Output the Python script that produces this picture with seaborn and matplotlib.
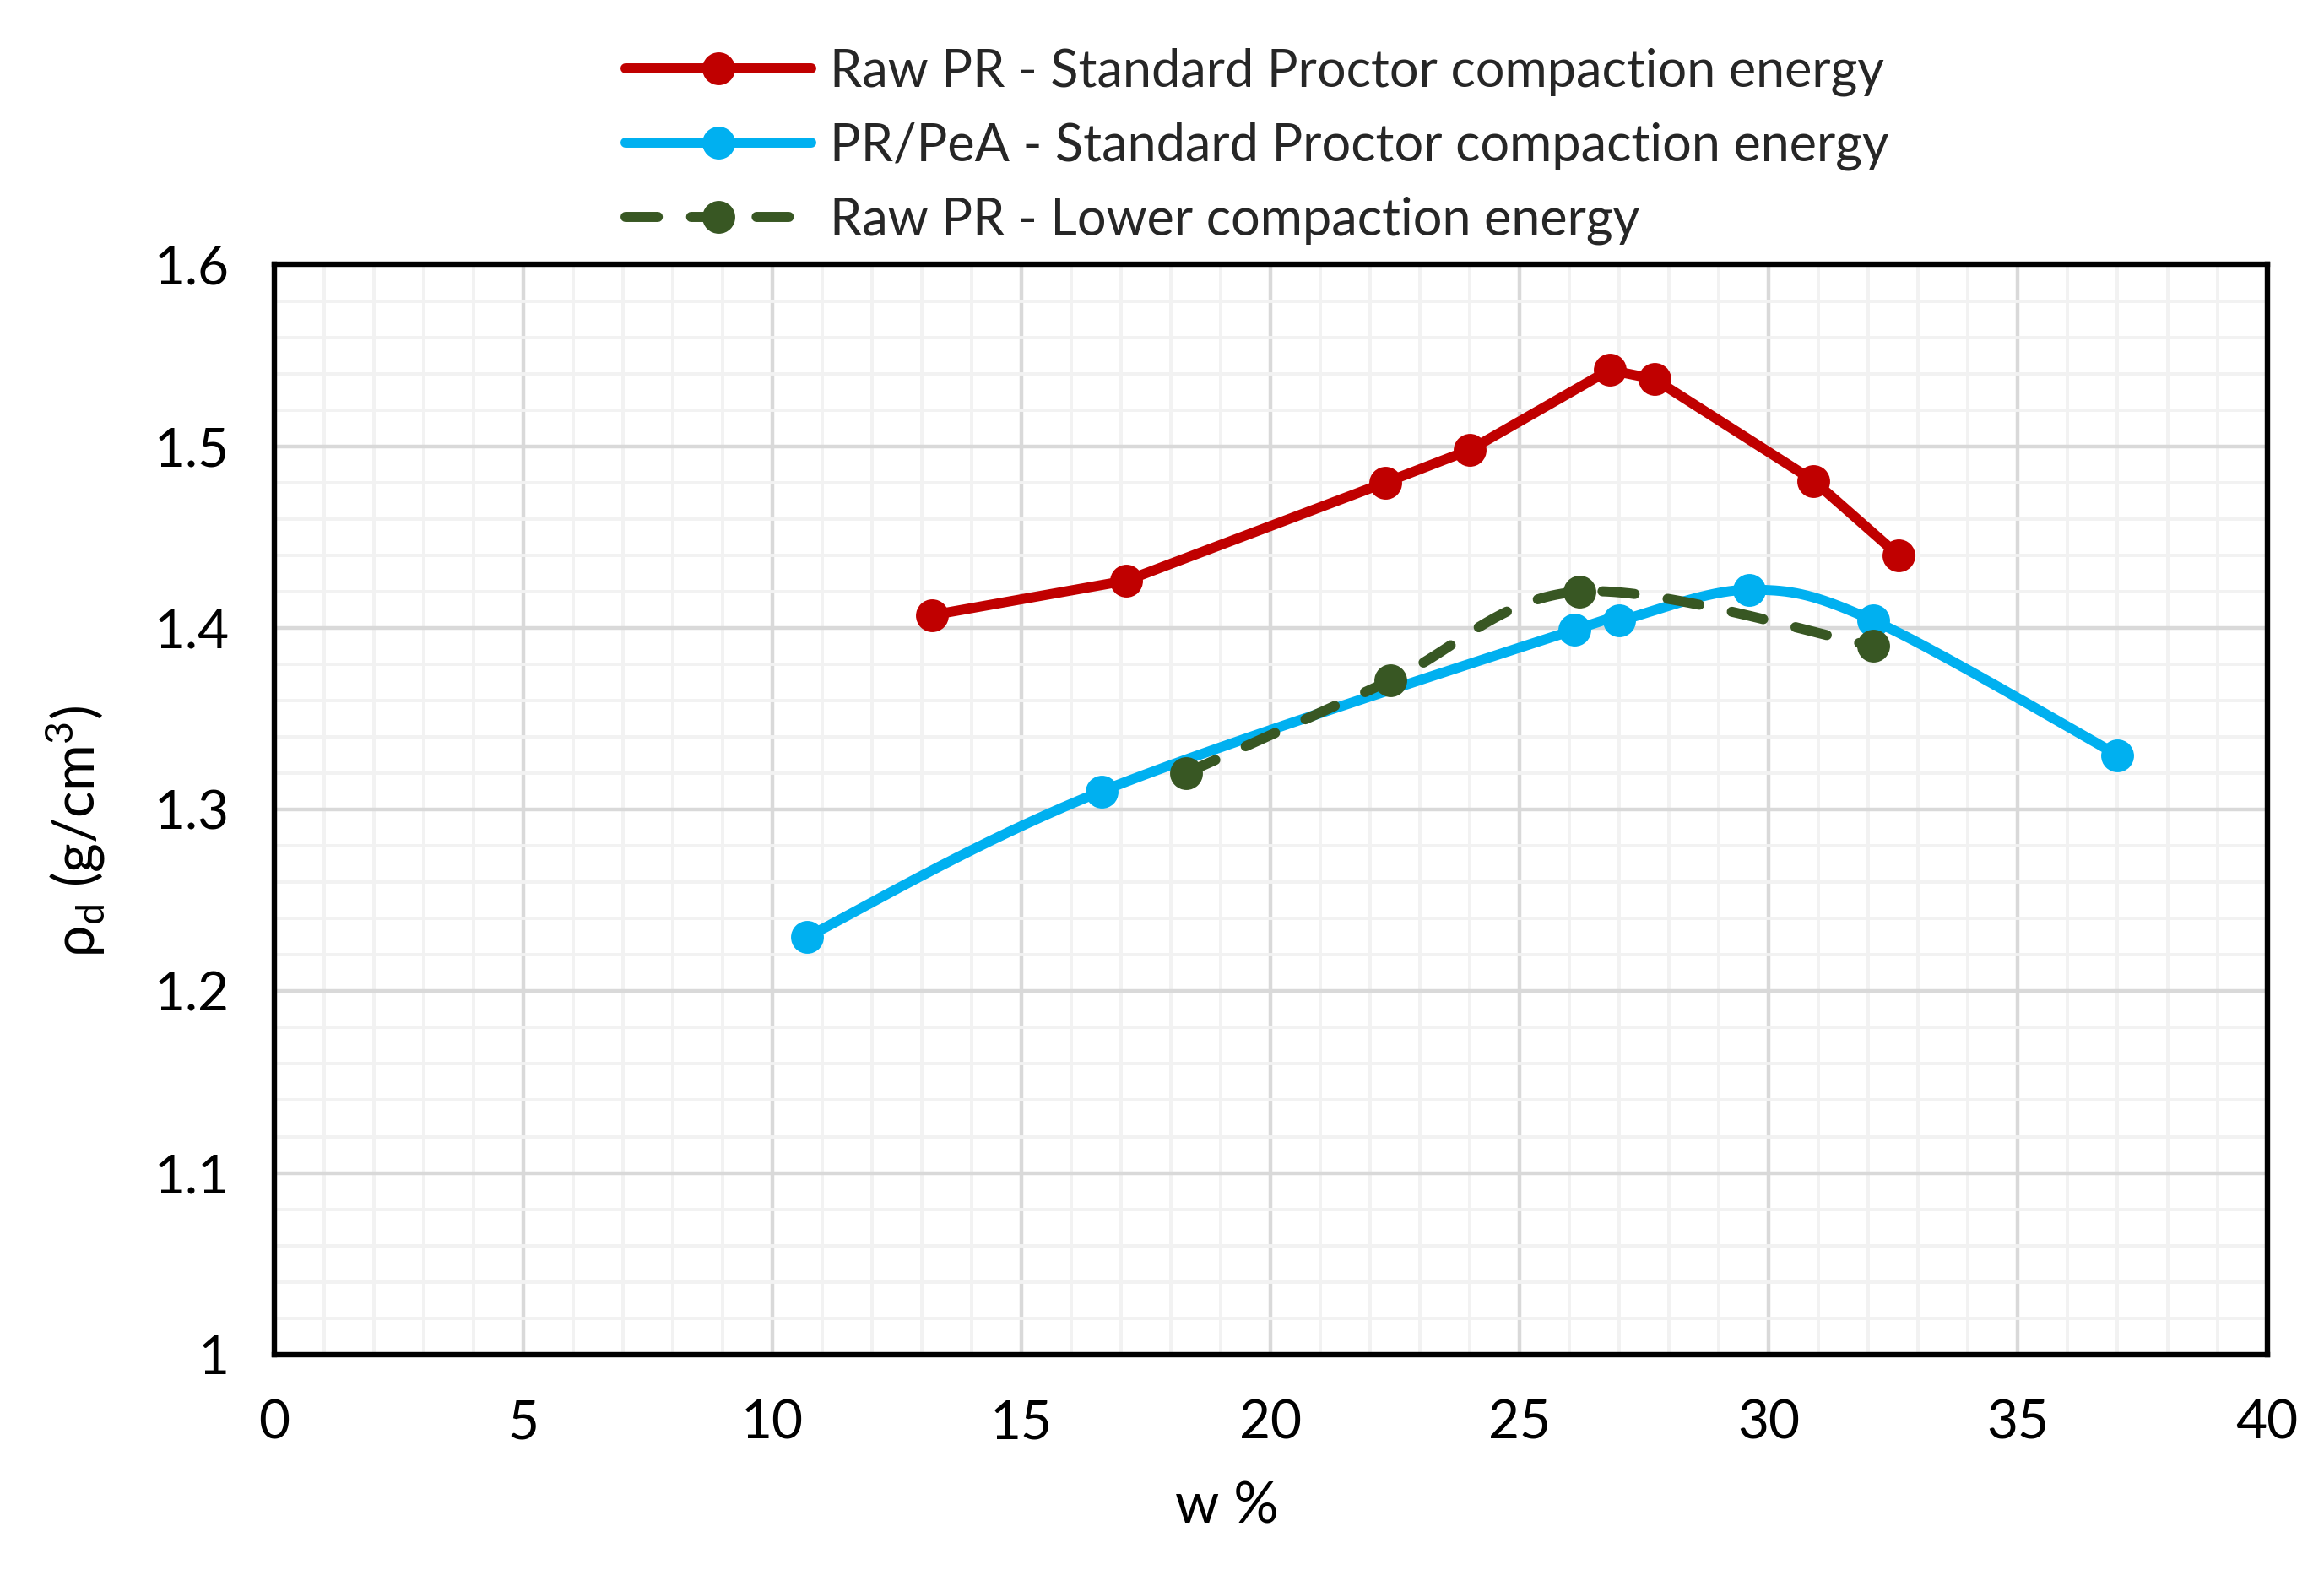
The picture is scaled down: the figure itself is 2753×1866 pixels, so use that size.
import numpy as np
import matplotlib
matplotlib.use("Agg")
import matplotlib.pyplot as plt
from matplotlib.lines import Line2D
from matplotlib.ticker import MultipleLocator
import seaborn as sns

# ---- data ----
raw_std_w = [13.2, 17.1, 22.3, 24.0, 26.8, 27.7, 30.9, 32.6]
raw_std_rho = [1.407, 1.426, 1.480, 1.498, 1.542, 1.537, 1.481, 1.440]

pea_std_w = [10.7, 16.6, 26.1, 27.0, 29.6, 32.1, 37.0]
pea_std_rho = [1.230, 1.310, 1.399, 1.404, 1.421, 1.404, 1.330]

raw_low_w = [18.3, 22.4, 26.2, 32.1]
raw_low_rho = [1.320, 1.371, 1.420, 1.390]

labels = ["Raw PR - Standard Proctor compaction energy",
          "PR/PeA - Standard Proctor compaction energy",
          "Raw PR - Lower compaction energy"]
colors = ["#C00000", "#00B0F0", "#385723"]

x_ticks = [0, 5, 10, 15, 20, 25, 30, 35, 40]
y_ticks = [1.0, 1.1, 1.2, 1.3, 1.4, 1.5, 1.6]


def smooth(xs, ys, n=40):
    """Excel-like Bezier smoothing through the data points."""
    P = np.column_stack([xs, ys]).astype(float)
    out = []
    m = len(P)
    for i in range(m - 1):
        p0 = P[i - 1] if i > 0 else P[i]
        p1 = P[i]
        p2 = P[i + 1]
        p3 = P[i + 2] if i + 2 < m else P[i + 1]
        c1 = p1 + (p2 - p0) / 6.0
        c2 = p2 - (p3 - p1) / 6.0
        t = np.linspace(0, 1, n, endpoint=(i == m - 2))[:, None]
        seg = ((1 - t) ** 3) * p1 + 3 * ((1 - t) ** 2) * t * c1 + 3 * (1 - t) * t ** 2 * c2 + t ** 3 * p2
        out.append(seg)
    out = np.vstack(out)
    return out[:, 0], out[:, 1]


sns.set_theme(style="white")
plt.rcParams["font.family"] = ["Lato", "DejaVu Sans"]
plt.rcParams["mathtext.fontset"] = "custom"
plt.rcParams["mathtext.rm"] = "Lato"

DPI = 200
fig = plt.figure(figsize=(2753 / DPI, 1866 / DPI), dpi=DPI)
ax = fig.add_axes([0.118, 0.140, 0.8575, 0.692])

lw = 4.3
ms = 14
dash = [3.2, 3.3]

# Red: straight lines
sns.lineplot(x=raw_std_w, y=raw_std_rho, ax=ax, color=colors[0], lw=lw, sort=False,
             marker="o", markersize=ms, markeredgewidth=0, zorder=4)

# Blue: smoothed
bx, by = smooth(pea_std_w, pea_std_rho)
sns.lineplot(x=bx, y=by, ax=ax, color=colors[1], lw=lw, sort=False, zorder=3)
ax.plot(pea_std_w, pea_std_rho, "o", color=colors[1], ms=ms, mew=0, zorder=3)

# Green: smoothed dashed
gx, gy = smooth(raw_low_w, raw_low_rho)
ln, = ax.plot(gx, gy, color=colors[2], lw=lw, zorder=5, dash_capstyle="round")
ln.set_dashes(dash)
ax.plot(raw_low_w, raw_low_rho, "o", color=colors[2], ms=ms, mew=0, zorder=5)

ax.set_xlim(0, 40)
ax.set_ylim(1.0, 1.6)
ax.set_xticks(x_ticks)
ax.set_yticks(y_ticks)
ax.set_xticklabels([str(v) for v in x_ticks])
ax.set_yticklabels(["1" if v == 1.0 else f"{v:.1f}" for v in y_ticks])
ax.xaxis.set_minor_locator(MultipleLocator(1))
ax.yaxis.set_minor_locator(MultipleLocator(0.02))

ax.grid(which="major", color="#D9D9D9", lw=1.6, zorder=1)
ax.grid(which="minor", color="#F2F2F2", lw=1.4, zorder=0)
ax.set_axisbelow(True)

ax.tick_params(axis="both", which="both", length=0, labelsize=23, colors="black")
ax.tick_params(axis="x", pad=19)
ax.tick_params(axis="y", pad=19)

for s in ax.spines.values():
    s.set_color("black")
    s.set_linewidth(2.3)
    s.set_zorder(6)

ax.set_xlabel("w %", fontsize=24, color="black", labelpad=14, x=0.478)
ax.set_ylabel(r"ρ$_\mathregular{d}$ (g/cm$^\mathregular{3}$)", fontsize=24, color="black",
              labelpad=20, y=0.48)

handles = []
for i, c in enumerate(colors):
    h = Line2D([], [], color=c, lw=lw, marker="o", markersize=ms, markeredgewidth=0)
    if i == 2:
        h.set_dashes(dash)
        h.set_dash_capstyle("round")
    handles.append(h)
fig.legend(handles, labels, loc="upper center", bbox_to_anchor=(0.541, 0.983),
           frameon=False, fontsize=22, handlelength=3.6, labelspacing=0.5,
           handletextpad=0.35, borderaxespad=0)

fig.savefig("out.png", dpi=DPI, facecolor="white")
